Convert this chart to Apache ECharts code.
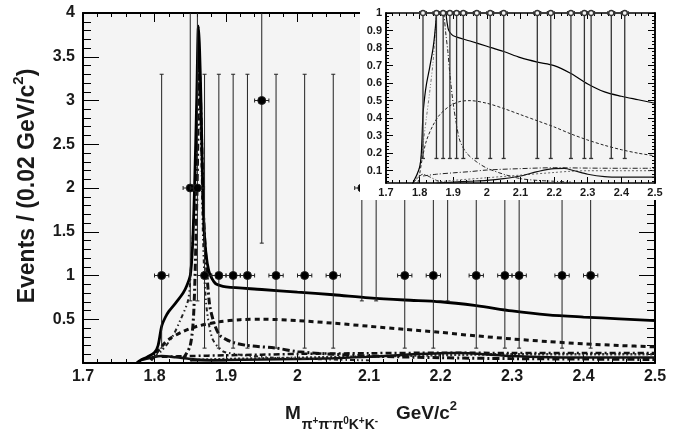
<!DOCTYPE html>
<html><head><meta charset="utf-8">
<script src="https://cdn.jsdelivr.net/npm/echarts@6/dist/echarts.min.js"></script>
<style>
html,body{margin:0;padding:0;background:#fff;}
#main{position:absolute;left:0;top:0;width:679px;height:433px;}
#inset{position:absolute;left:360px;top:0;width:319px;height:200px;background:#fff;}
</style></head><body>
<div id="main"></div><div id="inset"></div>
<script>
// ---------------- data ----------------
// main plot data points: bin centre, events, Poisson lower / upper error
const ptX  = [1.81,1.85,1.86,1.87,1.89,1.91,1.93,1.95,1.97,2.01,2.05,2.09,2.11,2.15,2.19,2.21,2.25,2.29,2.31,2.37,2.41];
const ptY  = [1,   2,   2,   1,   1,   1,   1,   3,   1,   1,   1,   2,   2,   1,   1,   2,   1,   1,   1,   1,   1];
const ptLo = [0.83,1.29,1.29,0.83,0.83,0.83,0.83,1.63,0.83,0.83,0.83,1.29,1.29,0.83,0.83,1.29,0.83,0.83,0.83,0.83,0.83];
const ptHi = [2.30,2.64,2.64,2.30,2.30,2.30,2.30,2.92,2.30,2.30,2.30,2.64,2.64,2.30,2.30,2.64,2.30,2.30,2.30,2.30,2.30];
// inset data points
const inX  = [1.81,1.85,1.87,1.89,1.91,1.93,1.97,2.01,2.05,2.15,2.19,2.25,2.29,2.31,2.37,2.41];
const inY  = [1,1,1,1,1,1,1,1,1,1,1,1,1,1,1,1];
const inLo = [0.83,0.83,0.83,0.83,0.83,0.83,0.83,0.83,0.83,0.83,0.83,0.83,0.83,0.83,0.83,0.83];
const inHi = [2.30,2.30,2.30,2.30,2.30,2.30,2.30,2.30,2.30,2.30,2.30,2.30,2.30,2.30,2.30,2.30];

// total fit (solid)
const totX = [1.775,1.78,1.79,1.80,1.805,1.81,1.815,1.82,1.83,1.84,1.845,1.85,1.853,1.856,1.859,1.8615,1.863,1.865,1.867,1.869,1.872,1.876,1.88,1.885,1.89,1.90,1.95,2.00,2.05,2.10,2.15,2.20,2.25,2.30,2.35,2.40,2.45,2.50];
const totY = [0.0,0.03,0.07,0.12,0.2,0.42,0.52,0.59,0.69,0.80,0.88,1.0,1.3,2.0,3.0,3.85,3.6,3.0,2.2,1.6,1.25,1.05,0.97,0.91,0.89,0.87,0.84,0.81,0.78,0.745,0.72,0.70,0.655,0.595,0.55,0.525,0.505,0.485];
// background (dashed)
const bkgX = [1.795,1.80,1.807,1.82,1.84,1.86,1.89,1.92,1.95,2.0,2.05,2.1,2.15,2.2,2.25,2.3,2.35,2.4,2.45,2.5];
const bkgY = [0.03,0.08,0.16,0.27,0.36,0.42,0.47,0.495,0.50,0.485,0.455,0.42,0.385,0.35,0.31,0.275,0.245,0.22,0.20,0.185];
// main signal component, right tail (thick dash-dot)
const sigRX = [1.84,1.85,1.855,1.859,1.863,1.866,1.869,1.872,1.877,1.884,1.891,1.90,1.91,1.93,1.97,2.0,2.05,2.1,2.2,2.3,2.4,2.5];
const sigRY = [0.05,0.2,0.6,1.8,3.3,2.5,1.6,1.2,0.67,0.44,0.32,0.27,0.235,0.2,0.17,0.13,0.1,0.08,0.06,0.05,0.045,0.04];
// main signal component, left rise (thin dash-dot-dot)
const sigLX = [1.80,1.81,1.825,1.835,1.847,1.851,1.856,1.859,1.862,1.865,1.868,1.872,1.88,1.89,1.9,1.95,2.0,2.1];
const sigLY = [0.07,0.14,0.3,0.47,0.72,1.1,1.87,2.8,3.4,2.6,1.4,0.7,0.3,0.17,0.12,0.07,0.05,0.03];
// low components
const lowSolX = [1.85,1.9,1.95,2.0,2.05,2.1,2.15,2.2,2.23,2.26,2.3,2.35,2.4,2.5];
const lowSolY = [0.03,0.035,0.04,0.045,0.055,0.07,0.095,0.112,0.113,0.1,0.08,0.066,0.063,0.063];
const lowDDX  = [1.81,1.85,1.9,1.95,2.0,2.1,2.2,2.3,2.4,2.5];
const lowDDY  = [0.07,0.08,0.088,0.095,0.104,0.112,0.117,0.115,0.114,0.114];
const lowDotX = [1.85,1.9,2.0,2.1,2.2,2.25,2.3,2.4,2.5];
const lowDotY = [0.035,0.045,0.06,0.075,0.09,0.097,0.1,0.1,0.1];
const bumpX = [1.78,1.795,1.81,1.83,1.85,1.87,1.9];
const bumpY = [0.03,0.06,0.08,0.065,0.045,0.035,0.03];
// inset signal components
const inSigRX = [1.866,1.872,1.878,1.884,1.89,1.90,1.91,1.92,1.94,1.97,2.0,2.05,2.1,2.15,2.2,2.25];
const inSigRY = [1.1,1.0,0.88,0.78,0.65,0.48,0.36,0.27,0.2,0.15,0.115,0.08,0.055,0.045,0.04,0.035];
const inSigLX = [1.79,1.80,1.81,1.82,1.83,1.84,1.845,1.85,1.855];
const inSigLY = [0.05,0.12,0.25,0.40,0.55,0.72,0.85,1.02,1.2];

// axis tick labels
const insetYLabels = [0.1,0.2,0.3,0.4,0.5,0.6,0.7,0.8,0.9,1.0];
const insetYMinor = [0.04,0.06,0.08,0.12,0.14,0.16,0.18,0.22,0.24,0.26,0.28,0.32,0.34,0.36,0.38,0.42,0.44,0.46,0.48,0.52,0.54,0.56,0.58,0.62,0.64,0.66,0.68,0.72,0.74,0.76,0.78,0.82,0.84,0.86,0.88,0.92,0.94,0.96,0.98];

// ---------------- helpers ----------------
const F = '"Liberation Sans", Arial, Helvetica, sans-serif';
function pairs(xs, ys){ return xs.map((x,i)=>[x, ys[i]]); }
function lineS(xs, ys, width, dash, color, z){
  return {type:'line', data:pairs(xs,ys), showSymbol:false, symbol:'none', smooth:0.3,
    lineStyle:{width:width, type:dash, color:color}, silent:true, z:z, animation:false};
}
function errS(xs, ys, lo, hi, o){
  const data = xs.map((x,i)=>[x, ys[i], ys[i]-lo[i], ys[i]+hi[i]]);
  return {type:'custom', data:data, z:10, silent:true, animation:false,
    encode:{x:0,y:1},
    renderItem:function(params, api){
      const x=api.value(0), y=api.value(1), ylo=api.value(2), yhi=api.value(3);
      const cs=params.coordSys, top=cs.y, bot=cs.y+cs.height;
      const p=api.coord([x,y]), pl=api.coord([x,ylo]), ph=api.coord([x,yhi]);
      const y1=Math.max(ph[1],top), y2=Math.min(pl[1],bot);
      const st={stroke:o.color, lineWidth:o.w};
      const ch=[];
      if (y2>y1) ch.push({type:'line',shape:{x1:p[0],y1:y1,x2:p[0],y2:y2},style:st});
      if (pl[1]<=bot) ch.push({type:'line',shape:{x1:p[0]-o.cap,y1:pl[1],x2:p[0]+o.cap,y2:pl[1]},style:st});
      if (ph[1]>=top) ch.push({type:'line',shape:{x1:p[0]-o.cap,y1:ph[1],x2:p[0]+o.cap,y2:ph[1]},style:st});
      if (p[1]>=top-0.5 && p[1]<=bot){
        const a=api.coord([x-0.01,y]), b=api.coord([x+0.01,y]);
        ch.push({type:'line',shape:{x1:a[0],y1:p[1],x2:b[0],y2:p[1]},style:st});
        ch.push({type:'line',shape:{x1:a[0],y1:p[1]-o.cap,x2:a[0],y2:p[1]+o.cap},style:st});
        ch.push({type:'line',shape:{x1:b[0],y1:p[1]-o.cap,x2:b[0],y2:p[1]+o.cap},style:st});
        ch.push({type:'circle',shape:{cx:p[0],cy:p[1],r:o.r},style:{fill:o.fill,stroke:o.color,lineWidth:o.w}});
      }
      return {type:'group', children:ch};
    }};
}
function xAx(pos, labels, tickLen, minorLen, fs, lw){
  return {type:'value', position:pos, min:1.7, max:2.5, interval:0.1,
    axisLine:{show:true,onZero:false,lineStyle:{color:'#000',width:lw}},
    axisTick:{show:true,inside:true,length:tickLen,lineStyle:{color:'#000',width:1}},
    minorTick:{show:true,splitNumber:5,length:minorLen,lineStyle:{color:'#000',width:1}},
    splitLine:{show:false}, minorSplitLine:{show:false},
    axisLabel:{show:labels,fontFamily:F,fontSize:fs,fontWeight:'bold',color:'#1a1a1a',margin:fs>12?6:4}};
}

// ---------------- main chart ----------------
const mainChart = echarts.init(document.getElementById('main'));
function yMain(pos, labels){
  return {type:'value', position:pos, min:0, max:4, interval:0.5,
    axisLine:{show:true,onZero:false,lineStyle:{color:'#000',width:2}},
    axisTick:{show:true,inside:true,length:16,lineStyle:{color:'#000',width:1}},
    minorTick:{show:true,splitNumber:5,length:8,lineStyle:{color:'#000',width:1}},
    splitLine:{show:false}, minorSplitLine:{show:false},
    axisLabel:{show:labels,fontFamily:F,fontSize:16,fontWeight:'bold',color:'#1a1a1a',margin:8,showMinLabel:false}};
}
mainChart.setOption({
  animation:false, backgroundColor:'#fff',
  grid:{left:83,right:24,top:13,bottom:70,show:true,backgroundColor:'#f4f4f4',borderWidth:0},
  xAxis:[xAx('bottom',true,9,4,16,2), xAx('top',false,9,4,16,2)],
  yAxis:[yMain('left',true), yMain('right',false)],
  series:[
    lineS(bumpX,bumpY,2.5,'solid','#111',2),
    lineS(lowDotX,lowDotY,2.5,[2,2],'#333',2),
    lineS(lowDDX,lowDDY,2.5,[6,3,2,3],'#111',2),
    lineS(lowSolX,lowSolY,2.5,'solid','#111',2),
    lineS(sigLX,sigLY,2,[4,3,1.5,3,1.5,3],'#222',3),
    lineS(sigRX,sigRY,3,[7,3,2,3],'#111',3),
    lineS(bkgX,bkgY,3,[5,4],'#111',4),
    lineS(totX,totY,2.8,'solid','#000',5),
    errS(ptX,ptY,ptLo,ptHi,{color:'#222',w:1,cap:2,r:4,fill:'#000'})
  ],
  graphic:[
    {type:'text', x:25, y:186, rotation:Math.PI/2, silent:true,
     style:{text:'{t|Events / (0.02 GeV/c}{s|2}{t|)}', align:'center', verticalAlign:'middle', fill:'#1a1a1a',
       fontFamily:F, fontSize:23, fontWeight:'bold',
       rich:{t:{fontFamily:F,fontSize:23,fontWeight:'bold',fill:'#1a1a1a',verticalAlign:'top',padding:[5,0,0,0]},
             s:{fontFamily:F,fontSize:15,fontWeight:'bold',fill:'#1a1a1a',verticalAlign:'top'}}}},
    {type:'text', x:285, y:400, silent:true,
     style:{text:'{m|M}{a|π}{b|+}{a|π}{b|-}{a|π}{b|0}{a|K}{b|+}{a|K}{b|-}', align:'left', verticalAlign:'top',
       fontFamily:F, fontSize:19, fontWeight:'bold', fill:'#1a1a1a',
       rich:{m:{fontFamily:F,fontSize:19,fontWeight:'bold',fill:'#1a1a1a',verticalAlign:'top',padding:[4,1,0,0]},
             a:{fontFamily:F,fontSize:14,fontWeight:'bold',fill:'#1a1a1a',verticalAlign:'bottom',lineHeight:32},
             b:{fontFamily:F,fontSize:10,fontWeight:'bold',fill:'#1a1a1a',verticalAlign:'bottom',padding:[0,0,6,0]}}}},
    {type:'text', x:396, y:400, silent:true,
     style:{text:'{m|GeV/c}{s|2}', align:'left', verticalAlign:'top',
       fontFamily:F, fontSize:19, fontWeight:'bold', fill:'#1a1a1a',
       rich:{m:{fontFamily:F,fontSize:19,fontWeight:'bold',fill:'#1a1a1a',verticalAlign:'top',padding:[4,0,0,0]},
             s:{fontFamily:F,fontSize:13,fontWeight:'bold',fill:'#1a1a1a',verticalAlign:'top'}}}}
  ]
});

// ---------------- inset chart ----------------
const insetChart = echarts.init(document.getElementById('inset'));
function yIn(pos, values, len, labels){
  return {type:'value', position:pos, min:0.03, max:1,
    axisLine:{show:true,onZero:false,lineStyle:{color:'#000',width:1.5}},
    axisTick:{show:true,inside:true,length:len,customValues:values,lineStyle:{color:'#000',width:1}},
    splitLine:{show:false},
    axisLabel:{show:labels,customValues:insetYLabels,fontFamily:F,fontSize:11,fontWeight:'bold',color:'#1a1a1a',margin:4,
      formatter:function(v){return String(+v.toFixed(2));}}};
}
insetChart.setOption({
  animation:false, backgroundColor:'#fff',
  grid:{left:26,right:24,top:13,bottom:17,show:true,backgroundColor:'#f4f4f4',borderWidth:0},
  xAxis:[xAx('bottom',true,6,3,11,1.5), xAx('top',false,6,3,11,1.5)],
  yAxis:[yIn('left',insetYLabels,7,true), yIn('left',insetYMinor,3,false),
         yIn('right',insetYLabels,7,false), yIn('right',insetYMinor,3,false)],
  series:[
    lineS(bumpX,bumpY,1,[4,2,1,2],'#222',2),
    lineS(lowDotX,lowDotY,1,[2,2],'#666',2),
    lineS(lowDDX,lowDDY,1,[5,2,1,2],'#222',2),
    lineS(lowSolX,lowSolY,1.2,'solid','#111',2),
    lineS(inSigLX,inSigLY,1,[3,2,1,2,1,2],'#777',3),
    lineS(inSigRX,inSigRY,1,[4,2,1,2],'#222',3),
    lineS(bkgX,bkgY,1,[3,2],'#222',4),
    lineS(totX,totY,1.2,'solid','#000',5),
    errS(inX,inY,inLo,inHi,{color:'#333',w:1.3,cap:2,r:2.5,fill:'#f4f4f4'})
  ]
});
</script></body></html>
